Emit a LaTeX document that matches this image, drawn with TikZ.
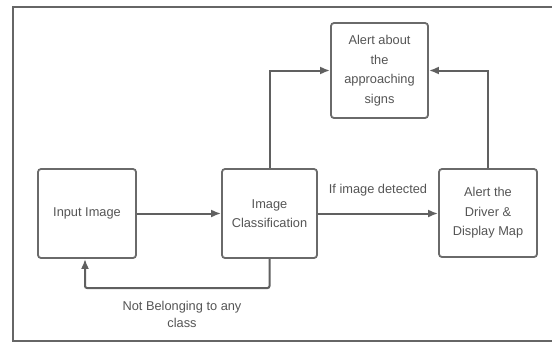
\documentclass[tikz,border=0pt]{standalone}
\usepackage{fontspec}
\setmainfont{Liberation Sans}
\usetikzlibrary{arrows.meta}
\definecolor{linec}{HTML}{606060}
\definecolor{boxc}{HTML}{6a6a6a}
\definecolor{textc}{HTML}{555555}
\begin{document}
\begin{tikzpicture}[x=1pt,y=-1pt,
  box/.style={draw=boxc,line width=1.8pt,rounded corners=3pt,inner sep=0pt,
    text=textc,align=center,font=\fontsize{12.8}{19.5}\selectfont},
  conn/.style={draw=linec,line width=2pt,-{Latex[length=10pt,width=8pt]}},
  lbl/.style={text=textc,align=center,font=\fontsize{12.8}{17}\selectfont,inner sep=0pt}]
\useasboundingbox (0,0) rectangle (552,343);
\fill[white] (0,0) rectangle (552,343);
\draw[draw=black!60,line width=2.6pt] (560,7) -- (13,7) -- (13,341) -- (560,341);
\node[box,minimum width=98pt,minimum height=89pt] (in) at (87,213.5) {Input Image};
\node[box,minimum width=95pt,minimum height=89pt] (cls) at (269.5,213.5) {Image\\Classification};
\node[box,minimum width=97pt,minimum height=95pt] (sig) at (379.5,70.5) {Alert about\\the\\approaching\\signs};
\node[box,minimum width=98pt,minimum height=88pt] (drv) at (488,213) {Alert the\\Driver \&\\Display Map};
\draw[conn] (in.east) -- (cls.west);
\draw[conn] (cls.east) -- node[lbl,above=16pt] {If image detected} (cls.east -| drv.west);
\draw[conn] (cls.north) |- (sig.west);
\draw[conn] (drv.north) |- (sig.east);
\coordinate (lo) at (270,288);
\draw[conn,rounded corners=2pt] (cls.south) |- ([xshift=-2pt]in.south |- lo) -- ([xshift=-2pt]in.south);
\node[lbl] (nb) at (182,314.5) {Not Belonging to any\\class};
\end{tikzpicture}
\end{document}
